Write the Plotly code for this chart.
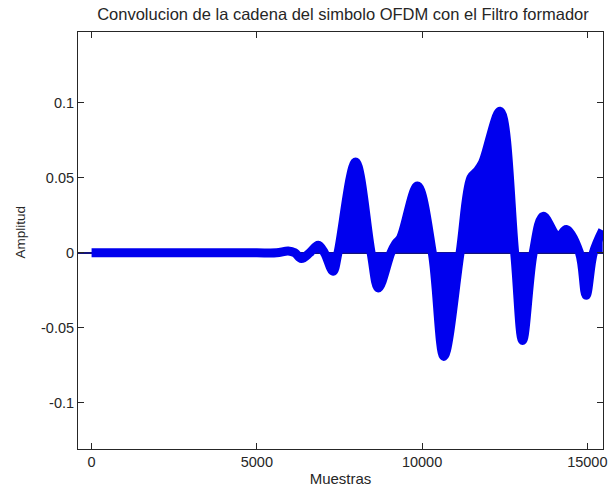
import plotly.graph_objects as go

# Filtered OFDM symbol chain: sample index and amplitude at the envelope's turning points
muestras = [0, 1000, 2000, 3000, 4000, 5000, 5600, 5950, 6150, 6350, 6600, 6856,
            7046, 7306, 7456, 7988, 8458, 8678, 9058, 9200, 9350, 9859, 10310,
            10660, 11150, 11480, 11660, 11830, 12360, 12802, 13042, 13363, 13664,
            14114, 14363, 14763, 14964, 15183, 15465]
amplitud = [0, 0, 0, 0, 0, 0, 0, 0.0012, 0, -0.0038, 0, 0.005,
            0, -0.0123, 0, 0.0605, 0, -0.0235, 0, 0.006, 0.010, 0.0445, 0,
            -0.069, 0, 0.050, 0.0543, 0.060, 0.0943, 0, -0.0585, 0, 0.0243,
            0.0105, 0.0155, 0, -0.0283, 0, 0.015]

x_ticks = [0, 5000, 10000, 15000]
y_ticks = [-0.1, -0.05, 0, 0.05, 0.1]
y_tick_text = ["-0.1", "-0.05", "0", "0.05", "0.1"]

azul = "#0000EE"
texto = "#262626"
fuente = "Liberation Sans, Arial, sans-serif"

fig = go.Figure()
fig.add_trace(go.Scatter(
    x=muestras, y=amplitud,
    mode="lines",
    line=dict(shape="spline", smoothing=1.0, width=9, color=azul),
    fill="tozeroy", fillcolor=azul,
    hoverinfo="skip", showlegend=False,
))

axis_common = dict(
    showline=True, linecolor=texto, linewidth=1, mirror="ticks",
    ticks="inside", ticklen=6, tickwidth=1, tickcolor=texto,
    showgrid=False,
    tickfont=dict(family=fuente, size=14.5, color=texto),
)

fig.update_layout(
    width=612, height=494,
    margin=dict(l=78, r=5, t=32, b=45),
    paper_bgcolor="white", plot_bgcolor="white",
    title=dict(
        text="Convolucion de la cadena del simbolo OFDM con el Filtro formador",
        font=dict(family=fuente, size=16.5, color=texto),
        x=0.5604, xanchor="center", y=0.972, yanchor="middle",
    ),
    xaxis=dict(
        range=[-411, 15475], tickvals=x_ticks, ticktext=[str(v) for v in x_ticks],
        zeroline=False,
        title=dict(text="Muestras", font=dict(family=fuente, size=15, color=texto), standoff=4),
        **axis_common,
    ),
    yaxis=dict(
        range=[-0.1307, 0.1471], tickvals=y_ticks, ticktext=y_tick_text,
        zeroline=True, zerolinecolor="#14147a", zerolinewidth=2,
        **axis_common,
    ),
    annotations=[dict(
        text="Amplitud", textangle=-90, showarrow=False,
        xref="paper", yref="paper", x=-0.1096, y=0.52,
        xanchor="center", yanchor="middle",
        font=dict(family=fuente, size=13.5, color=texto),
    )],
)

fig.write_html("out.html")
